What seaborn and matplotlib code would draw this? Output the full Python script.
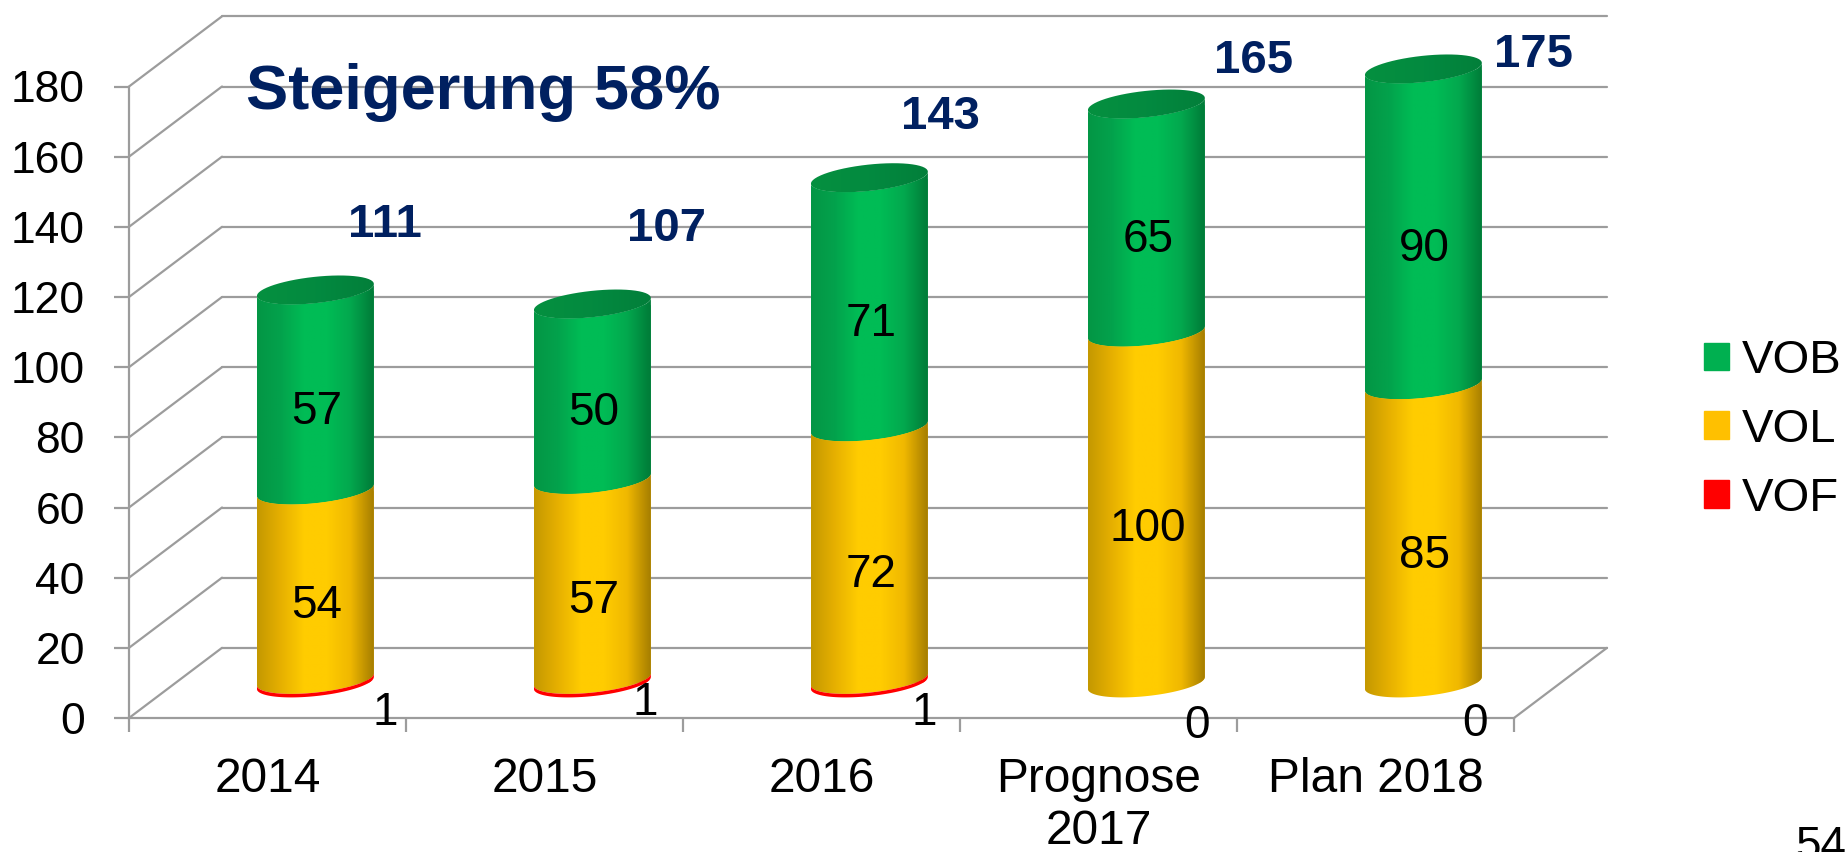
import numpy as np
import pandas as pd
import matplotlib
matplotlib.use("Agg")
import matplotlib.pyplot as plt
import seaborn as sns
from matplotlib.colors import LinearSegmentedColormap
from matplotlib.patches import Patch, PathPatch
from matplotlib.path import Path

# =============================================
# DATA
# =============================================
categories = ["2014", "2015", "2016", "Prognose\n2017", "Plan 2018"]
vof = [1, 1, 1, 0, 0]
vol = [54, 57, 72, 100, 85]
vob = [57, 50, 71, 65, 90]
totals = [111, 107, 143, 165, 175]
y_ticks = list(range(0, 181, 20))

# label anchors, in axis units (category position, value)
total_xy = [(0.424, 140.6), (1.439, 139.5), (2.428, 171.4), (3.561, 187.4), (4.572, 189)]
vof_xy = [(0.424, 1.3), (1.365, 4.4), (2.37, 1.3), (3.355, -2.2), (4.36, -1.6)]

# =============================================
# STYLE
# =============================================
sns.set_style("white")
plt.rcParams["font.family"] = ["Liberation Sans", "DejaVu Sans"]
plt.rcParams["text.color"] = "black"
plt.rcParams["xtick.labelcolor"] = "black"
plt.rcParams["ytick.labelcolor"] = "black"

PX_W, PX_H = 1845, 852
GRID = "#9C9C9C"
NAVY = "#002060"
FS = 33
LW = 1.6

# the front plane of the fake 3D box, in picture pixels
left_px, right_px, base_px, top_px = 129, 1514, 718, 86.5
px_per_unit = (base_px - top_px) / 180
px_per_cat = (right_px - left_px) / 5

depth_x, depth_y = 93 / px_per_cat, 20
bar_shift = depth_x / 2 + 0.005
bar_width = 117 / px_per_cat
tilt = 6 / px_per_unit      # the ellipses lean upward to the right
minor = 13.2 / px_per_unit

green_cm = LinearSegmentedColormap.from_list(
    "g", ["#039645", "#03A24C", "#00BC55", "#00BC55", "#03A84E", "#007B38"])
yellow_cm = LinearSegmentedColormap.from_list(
    "y", ["#C49800", "#E6B000", "#FFCC00", "#FFCC00", "#F0B800", "#A67E00"])
red_cm = LinearSegmentedColormap.from_list("r", ["#FF0000", "#FF0000"])
cap_cm = LinearSegmentedColormap.from_list("c", ["#05903F", "#038A40", "#027F3A"])


def arc(cx, half_w, yc, start, stop):
    t = np.linspace(start, stop, 60)
    return np.column_stack([cx + half_w * np.cos(t),
                            yc + tilt * np.cos(t) + minor * np.sin(t)])


def shaded(ax, verts, cx, half_w, y0, y1, cmap):
    """Fill a closed outline with a horizontal gradient."""
    clip = PathPatch(Path(np.vstack([verts, verts[:1]])), transform=ax.transData)
    grad = np.linspace(0, 1, 128).reshape(1, -1)
    im = ax.imshow(grad, cmap=cmap, aspect="auto", zorder=4, interpolation="bilinear",
                   extent=(cx - half_w, cx + half_w, y0, y1))
    im.set_clip_path(clip)
    im.set_clip_box(fig.bbox)
    return clip


# =============================================
# PLOT
# =============================================
fig = plt.figure(figsize=(PX_W / 100, PX_H / 100), dpi=100)
ax = fig.add_axes([left_px / PX_W, 1 - base_px / PX_H,
                   (right_px - left_px) / PX_W, (base_px - top_px) / PX_H])

# stacked bars are cumulative layers painted back to front
df = pd.DataFrame({"cat": categories, "VOF": vof, "VOL": vol, "VOB": vob})
df["c_vof"] = df["VOF"]
df["c_vol"] = df["c_vof"] + df["VOL"]
df["c_vob"] = df["c_vol"] + df["VOB"]

layers = [("c_vob", "VOB", "c_vol", "#00B050", green_cm),
          ("c_vol", "VOL", "c_vof", "#FFC000", yellow_cm),
          ("c_vof", "VOF", None, "#FF0000", red_cm)]

for col, name, below, color, cmap in layers:
    n_before = len(ax.patches)
    sns.barplot(data=df, x="cat", y=col, color=color, width=bar_width,
                saturation=1, errorbar=None, ax=ax, zorder=3)
    for i, bar in enumerate(ax.patches[n_before:]):
        bar.set_x(bar.get_x() + bar_shift)
        bar.set_y(depth_y / 2)
        cx = bar.get_x() + bar.get_width() / 2
        half_w = bar.get_width() / 2
        top = bar.get_height() + depth_y / 2
        bottom = depth_y / 2 + (df[below][i] if below else 0)
        if df[name][i] > 0:
            # front of the cylinder: lower arc of both ends
            outline = np.vstack([arc(cx, half_w, bottom, np.pi, 2 * np.pi),
                                 arc(cx, half_w, top, 2 * np.pi, np.pi)])
            clip = shaded(ax, outline, cx, half_w, bottom - 8, top + 8, cmap)
            bar.set_clip_path(clip)
            bar.set_clip_box(fig.bbox)
            if name != "VOF":
                ax.text(cx + 0.005, (bottom + top) / 2 - 6.2, str(df[name][i]), fontsize=FS,
                        ha="center", va="center", color="black", zorder=6)
        else:
            bar.set_visible(False)
        if name == "VOB":
            shaded(ax, arc(cx, half_w, top, 0, 2 * np.pi), cx, half_w,
                   top - 8, top + 8, cap_cm)

# back wall, floor and side wall lines
back_x = [-0.5 + depth_x, 4.5 + depth_x]
for y in y_ticks:
    ax.plot(back_x, [y + depth_y, y + depth_y], color=GRID, lw=LW, zorder=1, clip_on=False)
    ax.plot([-0.5, -0.5 + depth_x], [y, y + depth_y], color=GRID, lw=LW, zorder=1, clip_on=False)
ax.plot([4.5, 4.5 + depth_x], [0, depth_y], color=GRID, lw=LW, zorder=1, clip_on=False)

ax.set_xlim(-0.5, 4.5)
ax.set_ylim(0, 180)
ax.set_xlabel("")
ax.set_ylabel("")
ax.set_yticks(y_ticks)
ax.set_xticks(range(len(categories)))
ax.set_xticklabels(categories)
ax.set_xticks(np.arange(-0.5, 5), minor=True)
ax.tick_params(axis="y", labelsize=32, length=10.8, width=LW, color=GRID, pad=21, left=True)
ax.tick_params(axis="x", which="major", labelsize=34.5, length=0, pad=28)
ax.tick_params(axis="x", which="minor", length=10, width=LW, color=GRID, bottom=True)
for lab in ax.get_xticklabels():
    lab.set_linespacing(1.2)
sns.despine(ax=ax)
ax.spines["left"].set_color(GRID)
ax.spines["bottom"].set_color(GRID)
ax.spines["left"].set_linewidth(LW)
ax.spines["bottom"].set_linewidth(LW)
ax.patch.set_alpha(0)

# totals and the small VOF values
for (x, y), val in zip(total_xy, totals):
    ax.text(x, y, str(val), fontsize=34, fontweight="bold", color=NAVY,
            ha="center", va="center", zorder=6, clip_on=False)
for (x, y), val in zip(vof_xy, vof):
    ax.text(x, y, str(val), fontsize=FS, color="black",
            ha="center", va="center", zorder=6, clip_on=False)

fig.text(246 / PX_W, 1 - 92 / PX_H, "Steigerung 58%", fontsize=45.5, fontweight="bold",
         color=NAVY, ha="left", va="center", zorder=7)
fig.text(1795 / PX_W, 1 - 859 / PX_H, "54", fontsize=FS, color="black", ha="left", va="baseline")

handles = [Patch(color="#00B050", label="VOB"),
           Patch(color="#FFC000", label="VOL"),
           Patch(color="#FF0000", label="VOF")]
fig.legend(handles=handles, loc="center left", bbox_to_anchor=(1704 / PX_W, 1 - 430 / PX_H),
           frameon=False, fontsize=34, handlelength=0.52, handleheight=0.52,
           handletextpad=0.27, labelspacing=0.52, borderpad=0, borderaxespad=0)

fig.savefig("out.png", dpi=100)
